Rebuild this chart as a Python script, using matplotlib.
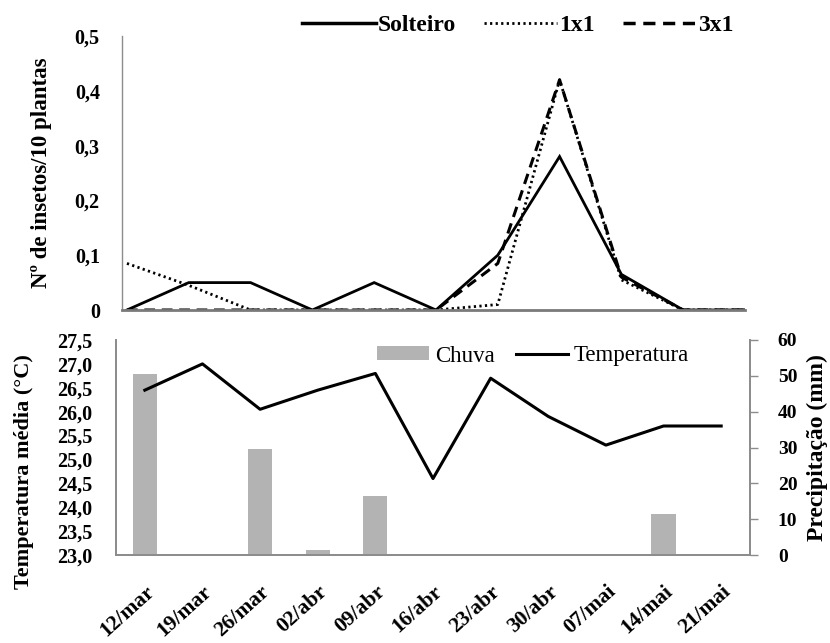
import matplotlib
matplotlib.use("Agg")
import matplotlib.pyplot as plt
from matplotlib.patches import Patch
from matplotlib.lines import Line2D

dates = ['12/mar', '19/mar', '26/mar', '02/abr', '09/abr', '16/abr',
         '23/abr', '30/abr', '07/mai', '14/mai', '21/mai']
solteiro = [0, 0.05, 0.05, 0, 0.05, 0, 0.1, 0.28, 0.065, 0, 0]
s1x1 = [0.085, 0.045, 0, 0, 0, 0, 0.01, 0.42, 0.055, 0, 0]
s3x1 = [0, 0, 0, 0, 0, 0, 0.085, 0.42, 0.06, 0, 0]
temperatura = [26.45, 27.0, 26.05, 26.45, 26.8, 24.6, 26.7, 25.9, 25.3, 25.7, 25.7]
chuva = [50.5, 0, 29.5, 1.5, 16.5, 0, 0, 0, 0, 11.5, 0]

top_ticks = [0, 0.1, 0.2, 0.3, 0.4, 0.5]
top_ticklabels = ['0', '0,1', '0,2', '0,3', '0,4', '0,5']
temp_ticks = [23.0, 23.5, 24.0, 24.5, 25.0, 25.5, 26.0, 26.5, 27.0, 27.5]
temp_ticklabels = ['23,0', '23,5', '24,0', '24,5', '25,0', '25,5', '26,0', '26,5', '27,0', '27,5']
rain_ticks = [0, 10, 20, 30, 40, 50, 60]

FONT = 'Liberation Serif'
W, H = 830, 643
fig = plt.figure(figsize=(W / 100, H / 100), dpi=100)
AX_COL = '#8c8c8c'

def frac(l, t, r, b):
    return [l / W, 1 - b / H, (r - l) / W, (b - t) / H]

# ---------------- top panel ----------------
ax1 = fig.add_axes(frac(122, 36, 745, 310))
x = list(range(len(dates)))
ax1.plot(x, solteiro, color='black', lw=2.0, solid_joinstyle='miter')
ax1.plot(x, s1x1, color='black', lw=2.0, linestyle=(0, (0.8, 1.2)))
ax1.plot(x, s3x1, color='black', lw=2.2, linestyle=(0, (3.5, 2.2)))
ax1.set_xlim(-0.08, 10)
ax1.set_ylim(0, 0.5)
ax1.set_yticks(top_ticks)
ax1.set_yticklabels(top_ticklabels, fontfamily=FONT, fontweight='bold', fontsize=14.5)
ax1.set_xticks([])
for s in ['top', 'right']:
    ax1.spines[s].set_visible(False)
ax1.spines['left'].set_color(AX_COL)
ax1.spines['left'].set_linewidth(1.0)
ax1.spines['bottom'].set_color('#7a7a7a')
ax1.spines['bottom'].set_linewidth(2.0)
ax1.tick_params(axis='y', length=0, pad=16)

handles_top = [Line2D([], [], color='black', lw=2.5),
               Line2D([], [], color='black', lw=2.0, linestyle=(0, (0.8, 1.2))),
               Line2D([], [], color='black', lw=2.5, linestyle=(0, (3.5, 2.2)))]
fig.legend(handles_top, ['Solteiro', '1x1', '3x1'], loc='center',
           bbox_to_anchor=(518 / W, 1 - 25 / H), ncol=3, frameon=False,
           prop={'family': FONT, 'weight': 'bold', 'size': 17},
           handlelength=3.1, handletextpad=0.08, columnspacing=1.2,
           borderaxespad=0, borderpad=0)

fig.text(41 / W, 1 - 173 / H, 'Nº de insetos/10 plantas', rotation=90,
         ha='center', va='center', fontfamily=FONT, fontweight='bold', fontsize=16.5)

# ---------------- bottom panel ----------------
ax2 = fig.add_axes(frac(116, 340, 750, 555))
ax3 = ax2.twinx()
ax3.bar(x, chuva, width=0.42, color='#b3b3b3', zorder=1)
ax3.set_ylim(0, 60)
ax3.set_yticks(rain_ticks)
ax3.set_yticklabels([str(v) for v in rain_ticks], fontfamily=FONT,
                    fontweight='bold', fontsize=14)
ax3.tick_params(axis='y', length=6, width=1.0, color=AX_COL, pad=14, direction='out')

ax2.plot(x, temperatura, color='black', lw=2.2, zorder=3)
ax2.set_ylim(23.0, 27.5)
ax2.set_xlim(-0.5, 10.5)
ax2.set_yticks(temp_ticks)
ax2.set_yticklabels(temp_ticklabels, fontfamily=FONT, fontweight='bold', fontsize=14.5)
ax2.tick_params(axis='y', length=0, pad=17)
ax2.set_xticks(x)
ax2.set_xticklabels(dates, rotation=42, ha='right', rotation_mode='anchor',
                    fontfamily=FONT, fontweight='bold', fontsize=15.5)
ax2.tick_params(axis='x', length=0, pad=19)
ax2.set_zorder(ax3.get_zorder() + 1)
ax2.patch.set_visible(False)

for a in (ax2, ax3):
    a.spines['top'].set_visible(False)
    for s in ['left', 'right', 'bottom']:
        a.spines[s].set_color(AX_COL)
        a.spines[s].set_linewidth(1.3)

handles_bot = [Patch(facecolor='#b3b3b3', edgecolor='none'),
               Line2D([], [], color='black', lw=2.2)]
fig.legend(handles_bot, ['Chuva', 'Temperatura'], loc='center',
           bbox_to_anchor=(533 / W, 1 - 356 / H), ncol=2, frameon=False,
           prop={'family': FONT, 'size': 16.5},
           handlelength=2.3, handleheight=0.55, handletextpad=0.25,
           columnspacing=0.9, borderaxespad=0, borderpad=0)

fig.text(24 / W, 1 - 472 / H, 'Temperatura média (°C)', rotation=90,
         ha='center', va='center', fontfamily=FONT, fontweight='bold', fontsize=16)
fig.text(817 / W, 1 - 448 / H, 'Precipitação (mm)', rotation=90,
         ha='center', va='center', fontfamily=FONT, fontweight='bold', fontsize=17)

fig.savefig('out.png', dpi=100)
